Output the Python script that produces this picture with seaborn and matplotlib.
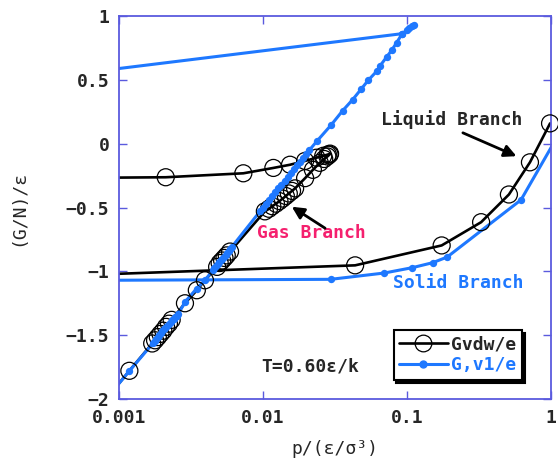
"""
G/N contra presión en escala log: lazo de van der Waals frente a G,v1 a T=0.60.
"""

import matplotlib
matplotlib.use("Agg")
import matplotlib.pyplot as plt
from matplotlib.lines import Line2D
from matplotlib.ticker import NullLocator
import pandas as pd
import seaborn as sns

# --- datos ---
# Gvdw/e: rama líquida, rama inestable y rama gaseosa
vdw_liquid_p = [0.985, 0.714, 0.510, 0.327, 0.174, 0.0436, 0.0003]
vdw_liquid_G = [0.159, -0.146, -0.398, -0.615, -0.797, -0.953, -1.04]

vdw_unstable_p = [0.0003, 0.00211, 0.0073, 0.0118, 0.0154, 0.0196, 0.0235, 0.0262, 0.0282, 0.0292]
vdw_unstable_G = [-0.27, -0.263, -0.232, -0.19, -0.165, -0.135, -0.11, -0.095, -0.085, -0.078]

vdw_gas_p = [0.0290, 0.0280, 0.0266, 0.0248, 0.0222, 0.0196, 0.0167, 0.0159, 0.0151,
             0.0144, 0.0137, 0.0130, 0.0123, 0.0116, 0.0110, 0.0103, 0.0059, 0.0056,
             0.0054, 0.0052, 0.0050, 0.0048, 0.00395, 0.00347, 0.00287, 0.00232,
             0.00222, 0.00212, 0.00203, 0.00194, 0.00186, 0.00178, 0.00170, 0.00118, 0.0008]
vdw_gas_G = [-0.085, -0.10, -0.12, -0.15, -0.205, -0.27, -0.35, -0.37, -0.39,
             -0.41, -0.43, -0.45, -0.47, -0.49, -0.51, -0.53, -0.845, -0.875,
             -0.895, -0.915, -0.935, -0.965, -1.07, -1.148, -1.25, -1.38,
             -1.41, -1.435, -1.465, -1.49, -1.515, -1.54, -1.565, -1.779, -2.01]

# G,v1/e: rama gaseosa (sube hasta la punta y vuelve) y rama sólida
v1_gas_p = [0.0008, 0.00118, 0.00173, 0.00177, 0.00182, 0.00186, 0.00191, 0.00195,
            0.00200, 0.00205, 0.00210, 0.00216, 0.00222, 0.00228, 0.00234, 0.00240,
            0.00246, 0.00252, 0.00258, 0.00287, 0.00346, 0.00395, 0.00449, 0.00460,
            0.00472, 0.00484, 0.00497, 0.00510, 0.00523, 0.00536, 0.00550, 0.00564,
            0.00578, 0.00592, 0.00606, 0.00953, 0.0100, 0.0105, 0.0110, 0.0116,
            0.0122, 0.0128, 0.0134, 0.0141, 0.0148, 0.0156, 0.0164, 0.0172, 0.0181,
            0.0190, 0.0200, 0.0210, 0.0236, 0.0297, 0.0357, 0.0420, 0.0480, 0.0539,
            0.0619, 0.0650, 0.0723, 0.0783, 0.0846, 0.0920, 0.0998, 0.1040, 0.1080,
            0.1110, 0.0930, 0.0005]
v1_gas_G = [-2.01, -1.78, -1.56, -1.545, -1.53, -1.515, -1.50, -1.485,
            -1.47, -1.455, -1.44, -1.425, -1.41, -1.397, -1.385, -1.372,
            -1.36, -1.347, -1.335, -1.24, -1.135, -1.07, -0.99, -0.975,
            -0.96, -0.945, -0.93, -0.915, -0.90, -0.885, -0.87, -0.855,
            -0.84, -0.825, -0.81, -0.53, -0.50, -0.47, -0.44, -0.41,
            -0.38, -0.35, -0.32, -0.29, -0.26, -0.23, -0.20, -0.17, -0.14,
            -0.11, -0.08, -0.05, 0.018, 0.146, 0.258, 0.346, 0.427, 0.498,
            0.57, 0.61, 0.68, 0.732, 0.79, 0.857, 0.888, 0.905, 0.922,
            0.93, 0.862, 0.547]

v1_solid_p = [0.0003, 0.0295, 0.0696, 0.109, 0.151, 0.190, 0.619, 1.1]
v1_solid_G = [-1.072, -1.0625, -1.013, -0.971, -0.932, -0.888, -0.44, 0.05]

x_ticks = [0.001, 0.01, 0.1, 1]
x_tick_labels = ["0.001", "0.01", "0.1", "1"]
y_ticks = [-2, -1.5, -1, -0.5, 0, 0.5, 1]
y_tick_labels = ["\u22122", "\u22121.5", "\u22121", "\u22120.5", "0", "0.5", "1"]

BLACK = "black"
BLUE = "#1e78ff"
PINK = "#f5206e"
FRAME = "#5a5ade"


def branch_frame(parts):
    rows = []
    for name, ps, gs in parts:
        for p, g in zip(ps, gs):
            rows.append({"branch": name, "p": p, "G": g})
    return pd.DataFrame(rows)


def main():
    sns.set_style("ticks")
    plt.rcParams["font.family"] = ["DejaVu Sans Mono", "DejaVu Sans"]
    plt.rcParams["font.weight"] = "bold"

    vdw = branch_frame([
        ("liquid", vdw_liquid_p, vdw_liquid_G),
        ("unstable", vdw_unstable_p, vdw_unstable_G),
        ("gas", vdw_gas_p, vdw_gas_G),
    ])
    v1 = branch_frame([
        ("gas", v1_gas_p, v1_gas_G),
        ("solid", v1_solid_p, v1_solid_G),
    ])

    fig, ax = plt.subplots(figsize=(5.58, 4.68), dpi=100)
    fig.subplots_adjust(left=0.2133, right=0.9875, bottom=0.1474, top=0.9658)
    ax.set_xscale("log")

    # líneas (recortadas al área) y marcadores solo dentro del rango
    sns.lineplot(data=vdw, x="p", y="G", units="branch", estimator=None, sort=False,
                 color=BLACK, lw=1.9, ax=ax)
    in_vdw = vdw[(vdw["p"] >= 1e-3) & (vdw["p"] <= 1)]
    sns.scatterplot(data=in_vdw, x="p", y="G", marker="o", s=150, color=BLACK,
                    facecolors="none", edgecolor=BLACK, linewidth=0.9,
                    clip_on=False, zorder=3, ax=ax)

    sns.lineplot(data=v1, x="p", y="G", units="branch", estimator=None, sort=False,
                 color=BLUE, lw=2.2, ax=ax)
    in_v1 = v1[(v1["p"] >= 1e-3) & (v1["p"] <= 1)]
    sns.scatterplot(data=in_v1, x="p", y="G", marker="o", s=28, color=BLUE,
                    linewidth=0, zorder=4, ax=ax)

    ax.set_xlim(1e-3, 1)
    ax.set_ylim(-2, 1)
    ax.set_xticks(x_ticks)
    ax.set_xticklabels(x_tick_labels)
    ax.xaxis.set_minor_locator(NullLocator())
    ax.set_yticks(y_ticks)
    ax.set_yticklabels(y_tick_labels)
    ax.tick_params(direction="in", top=True, right=True, length=6, width=1,
                   color=FRAME, labelsize=13, pad=7)
    for sp in ax.spines.values():
        sp.set_color(FRAME)
        sp.set_linewidth(1.3)

    ax.set_xlabel("p/(\u03b5/\u03c3\u00b3)", fontsize=13)
    ax.set_ylabel("(G/N)/\u03b5", fontsize=13)
    ax.xaxis.set_label_coords(0.5, -0.107)
    ax.yaxis.set_label_coords(-0.213, 0.5)

    # anotaciones
    arrow = dict(arrowstyle="-|>", color="black", lw=2, mutation_scale=18,
                 shrinkA=0, shrinkB=0)
    ax.text(0.607, 0.730, "Liquid Branch", transform=ax.transAxes,
            fontsize=13, va="center", ha="left")
    ax.annotate("", xy=(0.920, 0.634), xytext=(0.796, 0.695),
                xycoords="axes fraction", textcoords="axes fraction", arrowprops=arrow)
    ax.text(0.319, 0.433, "Gas Branch", transform=ax.transAxes,
            fontsize=13, va="center", ha="left", color=PINK)
    ax.annotate("", xy=(0.400, 0.502), xytext=(0.477, 0.446),
                xycoords="axes fraction", textcoords="axes fraction", arrowprops=arrow)
    ax.text(0.634, 0.304, "Solid Branch", transform=ax.transAxes,
            fontsize=13, va="center", ha="left", color=BLUE)
    ax.text(0.329, 0.086, "T=0.60\u03b5/k", transform=ax.transAxes,
            fontsize=13, va="center", ha="left")

    handles = [
        Line2D([], [], color=BLACK, lw=1.9, marker="o", markersize=12,
               markerfacecolor="none", markeredgewidth=0.9),
        Line2D([], [], color=BLUE, lw=2.2, marker="o", markersize=5),
    ]
    leg = ax.legend(handles, ["Gvdw/e", "G,v1/e"], loc="lower right",
                    bbox_to_anchor=(0.933, 0.05), borderaxespad=0, fontsize=13,
                    handlelength=2.7, handletextpad=0.2, labelspacing=0.15,
                    borderpad=0.3, fancybox=False, framealpha=1, edgecolor="black",
                    shadow={"color": "black", "alpha": 1})
    leg.get_frame().set_linewidth(1.5)
    leg.get_texts()[1].set_color(BLUE)

    fig.savefig("out.png", dpi=100)


if __name__ == "__main__":
    main()
